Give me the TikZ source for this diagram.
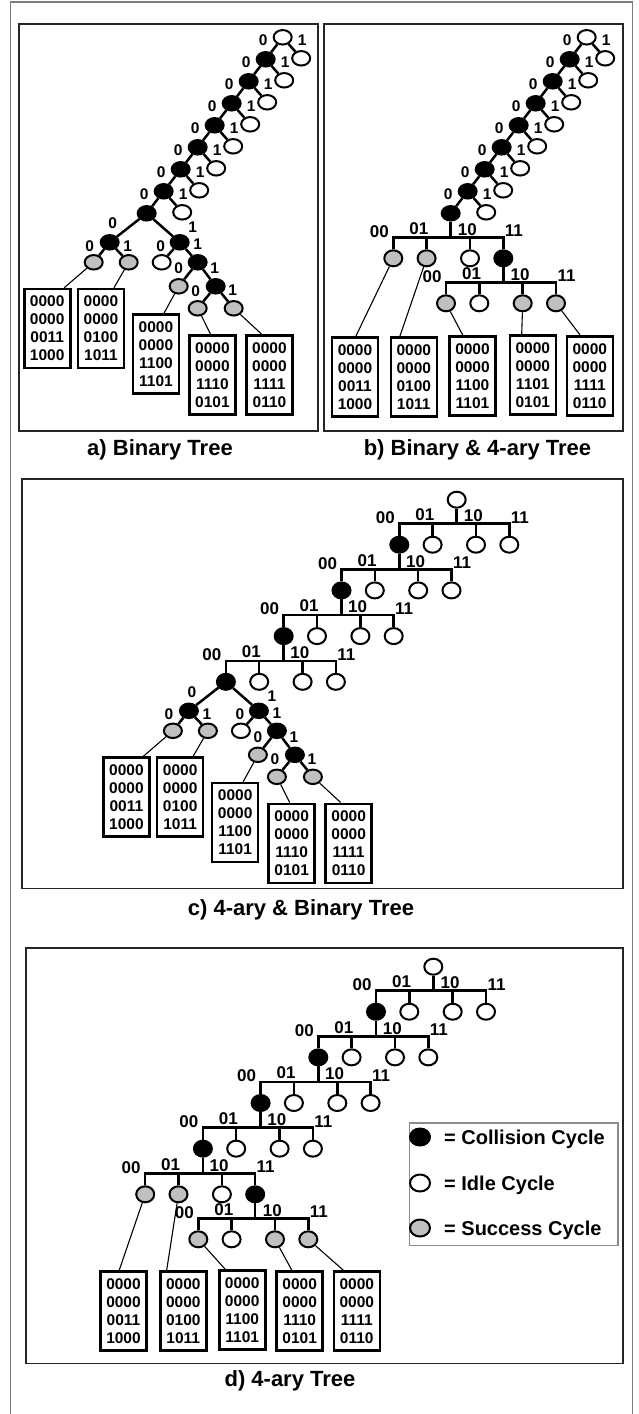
\documentclass[tikz,border=0pt]{standalone}
\usepackage{fontspec}
\setmainfont{Liberation Sans}
\usetikzlibrary{shapes.geometric,calc}
\definecolor{sucgray}{RGB}{192,192,192}
\definecolor{framegray}{RGB}{125,125,125}
\tikzset{
  nd/.style={ellipse,draw=black,line width=2pt,minimum width=18pt,minimum height=14.5pt,inner sep=0pt},
  col/.style={nd,fill=black},
  idle/.style={nd,fill=white},
  suc/.style={nd,fill=sucgray},
  edge/.style={line width=2.5pt},
  conn/.style={line width=1.1pt},
  lbl/.style={font=\bfseries\fontsize{15.5}{17}\selectfont,inner sep=0pt},
  lblq/.style={font=\bfseries\fontsize{17}{19}\selectfont,inner sep=0pt},
  tagbox/.style={draw,line width=2.6pt,fill=white,minimum width=46pt,minimum height=79pt,inner sep=0pt,align=center,font=\bfseries\fontsize{15.5}{18}\selectfont},
  panel/.style={draw=black!85,line width=1.8pt},
  captext/.style={font=\bfseries\fontsize{22}{24}\selectfont,inner sep=0pt},
  legtext/.style={font=\bfseries\fontsize{20}{22}\selectfont,inner sep=0pt},
}
% binary chain: #1 prefix, #2 top x, #3 top y
\newcommand\BinChain[3]{%
  \node[idle] (#1-0) at (#2,#3) {};
  \foreach \k in {1,...,7}{\node[col] (#1-\k) at ({#2-17*\k},{#3+22*\k}) {};}
  \foreach \k in {0,...,7}{%
    \node[idle] (#1-w\k) at ({#2-17*\k+18.5},{#3+22*\k+21}) {};
    \draw[edge] (#1-\k) -- (#1-w\k);
    \node[lbl] (#1-z\k) at ({#2-17*\k-19.5},{#3+22*\k+3}) {0};
    \node[lbl] (#1-o\k) at ({#2-17*\k+19.5},{#3+22*\k+3}) {1};
  }
  \foreach \k in {0,...,6}{\pgfmathtruncatemacro\nx{\k+1}\draw[edge] (#1-\k) -- (#1-\nx);}
}
% 4-ary level: #1 parent, #2 prefix, #3 bar left x, #4 bar y, #5-#8 child styles
\newcommand\QLevel[8]{%
  \coordinate (#2-bl) at (#3,#4);
  \node[#5,minimum height=16pt] (#2-1) at (#3,{#4+21}) {};
  \node[#6,minimum height=16pt] (#2-2) at ({#3+33.3},{#4+21}) {};
  \node[#7,minimum height=16pt] (#2-3) at ({#3+76.7},{#4+21}) {};
  \node[#8,minimum height=16pt] (#2-4) at ({#3+110},{#4+21}) {};
  \draw[edge] (#1) -- (#1 |- #2-bl);
  \draw[edge] (#2-1) -- (#2-1 |- #2-bl) -- (#2-4 |- #2-bl) -- (#2-4);
  \draw[edge] (#2-2) -- (#2-2 |- #2-bl);
  \draw[edge] (#2-3) -- (#2-3 |- #2-bl);
  \node[lblq] (#2-l1) at ({#3-14},{#4-6}) {00};
  \node[lblq] (#2-l2) at ({#3+25.5},{#4-9}) {01};
  \node[lblq] (#2-l3) at ({#3+74},{#4-8}) {10};
  \node[lblq] (#2-l4) at ({#3+120.5},{#4-6.5}) {11};
}
% binary subtree below root #1 (root at scope origin), prefix #2
\newcommand\BinSub[2]{%
  \node[col] (#2L) at (-37,29) {};
  \node[col] (#2R) at (33,29) {};
  \node[suc] (#2LL) at (-53,49) {};
  \node[suc] (#2LR) at (-18,49) {};
  \node[idle] (#2RL) at (15,49) {};
  \node[col] (#2R2) at (51,49) {};
  \node[suc] (#2R2L) at (32,73) {};
  \node[col] (#2R3) at (69,73) {};
  \node[suc] (#2R3L) at (51,95) {};
  \node[suc] (#2R3R) at (87,95) {};
  \draw[edge] (#1) -- (#2L); \draw[edge] (#1) -- (#2R);
  \draw[edge] (#2L) -- (#2LL); \draw[edge] (#2L) -- (#2LR);
  \draw[edge] (#2R) -- (#2RL); \draw[edge] (#2R) -- (#2R2);
  \draw[edge] (#2R2) -- (#2R2L); \draw[edge] (#2R2) -- (#2R3);
  \draw[edge] (#2R3) -- (#2R3L); \draw[edge] (#2R3) -- (#2R3R);
  \node[lbl] (#2t0) at (-34,10) {0}; \node[lbl] (#2t1) at (46,14) {1};
  \node[lbl] (#2t2) at (-57,32.5) {0}; \node[lbl] (#2t3) at (-19,32.5) {1};
  \node[lbl] (#2t4) at (14,32.5) {0}; \node[lbl] (#2t5) at (51,31) {1};
  \node[lbl] (#2t6) at (32,55) {0}; \node[lbl] (#2t7) at (68,55) {1};
  \node[lbl] (#2t8) at (49,77.5) {0}; \node[lbl] (#2t9) at (86,77) {1};
  \node[tagbox] (#2B1) at (-99.5,115.25) {0000\\0000\\0011\\1000};
  \node[tagbox] (#2B2) at (-45.75,115.25) {0000\\0000\\0100\\1011};
  \node[tagbox] (#2B3) at (9.25,140.85) {0000\\0000\\1100\\1101};
  \node[tagbox] (#2B4) at (65.75,161.5) {0000\\0000\\1110\\0101};
  \node[tagbox] (#2B5) at (122.75,161.5) {0000\\0000\\1111\\0110};
  \draw[conn] (#2LL) -- ([xshift=17pt]#2B1.north);
  \draw[conn] (#2LR) -- ([xshift=13pt]#2B2.north);
  \draw[conn] (#2R2L) -- ([xshift=8pt]#2B3.north);
  \draw[conn] (#2R3L) -- ([xshift=-2pt]#2B4.north);
  \draw[conn] (#2R3R) -- ([xshift=-8pt]#2B5.north);
}
\begin{document}
\begin{tikzpicture}[x=1pt,y=-1pt]
\useasboundingbox[fill=white] (0,0) rectangle (638,1414);
% outer frame
\draw[framegray,line width=1.5pt] (10.5,1420) -- (10.5,2) -- (632.5,2) -- (632.5,1420);
% panel frames
\draw[panel] (19,24) rectangle (318,431);
\draw[panel] (324,24) rectangle (622.7,431);
\draw[panel] (22,479) rectangle (623,888.5);
\draw[panel] (26,948) rectangle (623,1363.5);
% captions
\node[captext,anchor=base] (capa) at (160,455) {a) Binary Tree};
\node[captext,anchor=base] (capb) at (477.5,455) {b) Binary \& 4-ary Tree};
\node[captext,anchor=base] (capc) at (301,915) {c) 4-ary \& Binary Tree};
\node[captext,anchor=base] (capd) at (290,1386.5) {d) 4-ary Tree};

% ---------- a) Binary tree
\BinChain{a}{282.7}{37.3}
\node[col] (a-8) at (146.7,213.3) {};
\draw[edge] (a-7) -- (a-8);
\begin{scope}[shift={(146.7,213.3)}]
\BinSub{a-8}{as}
\end{scope}

% ---------- b) Binary & 4-ary tree
\BinChain{b}{586.7}{37.3}
\node[col] (b-8) at (450.7,213.3) {};
\draw[edge] (b-7) -- (b-8);
\QLevel{b-8}{b9}{393.3}{237.3}{suc}{suc}{idle}{col}
\QLevel{b9-4}{b10}{446}{282.3}{suc}{idle}{suc}{suc}
\node[tagbox] (bB1) at (355,376.7) {0000\\0000\\0011\\1000};
\node[tagbox] (bB2) at (413.8,376.7) {0000\\0000\\0100\\1011};
\node[tagbox] (bB3) at (472.5,375.8) {0000\\0000\\1100\\1101};
\node[tagbox] (bB4) at (532.8,375) {0000\\0000\\1101\\0101};
\node[tagbox] (bB5) at (589.8,375.7) {0000\\0000\\1111\\0110};
\draw[conn] (b9-1) -- ([xshift=1pt]bB1.north);
\draw[conn] (b9-2) -- ([xshift=-13.8pt]bB2.north);
\draw[conn] (b10-1) -- ([xshift=-9.8pt]bB3.north);
\draw[conn] (b10-3) -- ([xshift=-11.1pt]bB4.north);
\draw[conn] (b10-4) -- ([xshift=-9.8pt]bB5.north);

% ---------- c) 4-ary & Binary tree
\node[idle,minimum height=16pt] (c-0) at (456.7,499.7) {};
\QLevel{c-0}{c1}{399.3}{523.7}{col}{idle}{idle}{idle}
\QLevel{c1-1}{c2}{341.5}{569.4}{col}{idle}{idle}{idle}
\QLevel{c2-1}{c3}{283.7}{615.1}{col}{idle}{idle}{idle}
\QLevel{c3-1}{c4}{225.9}{660.8}{col}{idle}{idle}{idle}
\begin{scope}[shift={(225.9,681.8)}]
\BinSub{c4-1}{cs}
\end{scope}

% ---------- d) 4-ary tree
\node[idle,minimum height=16pt] (d-0) at (433.3,966.7) {};
\QLevel{d-0}{d1}{376}{990.7}{col}{idle}{idle}{idle}
\QLevel{d1-1}{d2}{318.3}{1036.35}{col}{idle}{idle}{idle}
\QLevel{d2-1}{d3}{260.6}{1082}{col}{idle}{idle}{idle}
\QLevel{d3-1}{d4}{202.9}{1127.65}{col}{idle}{idle}{idle}
\QLevel{d4-1}{d5}{145.2}{1173.3}{suc}{suc}{idle}{col}
\QLevel{d5-4}{d6}{198.3}{1218.3}{suc}{idle}{suc}{suc}
\node[tagbox] (dB1) at (123.5,1310.8) {0000\\0000\\0011\\1000};
\node[tagbox] (dB2) at (183.3,1310.8) {0000\\0000\\0100\\1011};
\node[tagbox] (dB3) at (242.2,1309.8) {0000\\0000\\1100\\1101};
\node[tagbox] (dB4) at (299.7,1310.8) {0000\\0000\\1110\\0101};
\node[tagbox] (dB5) at (356.8,1311) {0000\\0000\\1111\\0110};
\draw[conn] (d5-1) -- ([xshift=-4.2pt]dB1.north);
\draw[conn] (d5-2) -- ([xshift=-16.6pt]dB2.north);
\draw[conn] (d6-1) -- ([xshift=-17.2pt]dB3.north);
\draw[conn] (d6-3) -- ([xshift=-8pt]dB4.north);
\draw[conn] (d6-4) -- ([xshift=-13.5pt]dB5.north);

% ---------- legend
\draw[draw=black!45,line width=1.6pt] (409.3,1122.7) rectangle (618,1245.5);
\node[col,minimum width=20pt,minimum height=17pt] (lg1) at (420,1137) {};
\node[idle,minimum width=20pt,minimum height=17pt] (lg2) at (420,1183) {};
\node[suc,minimum width=20pt,minimum height=17pt] (lg3) at (420,1228) {};
\node[legtext,anchor=base west] (lt1) at (444,1144.2) {= Collision Cycle};
\node[legtext,anchor=base west] (lt2) at (444,1190.2) {= Idle Cycle};
\node[legtext,anchor=base west] (lt3) at (444,1235.2) {= Success Cycle};
\end{tikzpicture}
\end{document}
